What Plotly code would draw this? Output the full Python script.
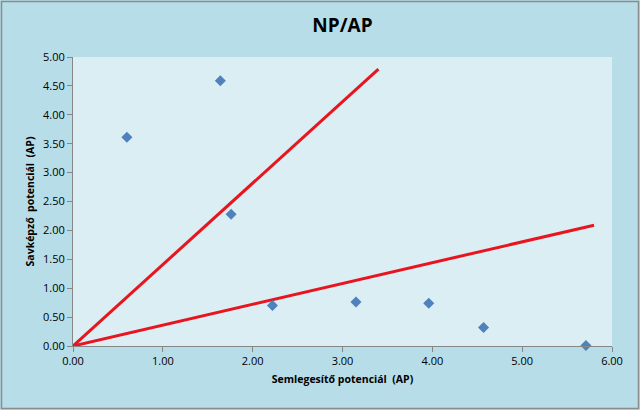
import plotly.graph_objects as go

# Data
np_values = [0.60, 1.64, 1.76, 2.22, 3.15, 3.96, 4.57, 5.71]
ap_values = [3.61, 4.59, 2.28, 0.70, 0.76, 0.74, 0.32, 0.01]
line1_x = [0.0, 3.40]
line1_y = [0.0, 4.79]
line2_x = [0.0, 5.80]
line2_y = [0.0, 2.09]
x_ticks = [0, 1, 2, 3, 4, 5, 6]
y_ticks = [0, 0.5, 1, 1.5, 2, 2.5, 3, 3.5, 4, 4.5, 5]

W, H = 640, 410
L, R, T, B = 73, 28, 57, 64

fig = go.Figure()
fig.add_trace(go.Scatter(x=line1_x, y=line1_y, mode="lines",
                         line=dict(color="#E8141E", width=3), showlegend=False))
fig.add_trace(go.Scatter(x=line2_x, y=line2_y, mode="lines",
                         line=dict(color="#E8141E", width=3), showlegend=False))
fig.add_trace(go.Scatter(x=np_values, y=ap_values, mode="markers",
                         marker=dict(symbol="diamond", size=8.5, color="#4F81BD"),
                         showlegend=False, cliponaxis=False))

pw = W - L - R
ph = H - T - B
fig.add_shape(type="rect", xref="paper", yref="paper",
              x0=-(L - 1.5) / pw, x1=1 + (R - 1.5) / pw,
              y0=-(B - 1.5) / ph, y1=1 + (T - 1.5) / ph,
              line=dict(color="#8C8C8C", width=1.5), layer="below")

axis_font = dict(family="Open Sans, Arial, sans-serif", size=11, color="#000000")
fig.update_layout(
    width=W, height=H,
    margin=dict(l=L, r=R, t=T, b=B),
    paper_bgcolor="#B7DDE8",
    plot_bgcolor="#DBEEF4",
    title=dict(text="<b>NP/AP</b>", x=0.5, xref="paper", y=1 - 25 / H, yanchor="middle",
               font=dict(family="Open Sans, Arial, sans-serif", size=19, color="#000000")),
    xaxis=dict(range=[0, 6], tickvals=x_ticks, tickformat=".2f",
               showgrid=False, zeroline=False, showline=True, linecolor="#868686",
               linewidth=1, ticks="outside", ticklen=5, tickcolor="#868686",
               tickfont=axis_font,
               title=dict(text="<b>Semlegesítő potenciál  (AP)</b>",
                          font=dict(family="Open Sans, Arial, sans-serif", size=10.5, color="#000000"),
                          standoff=8)),
    yaxis=dict(range=[0, 5], tickvals=y_ticks, tickformat=".2f",
               showgrid=False, zeroline=False, showline=True, linecolor="#868686",
               linewidth=1, ticks="outside", ticklen=5, tickcolor="#868686",
               tickfont=axis_font,
               title=dict(text="<b>Savképző  potenciál  (AP)</b>",
                          font=dict(family="Open Sans, Arial, sans-serif", size=10.5, color="#000000"),
                          standoff=6)),
)

fig.write_html("out.html")
